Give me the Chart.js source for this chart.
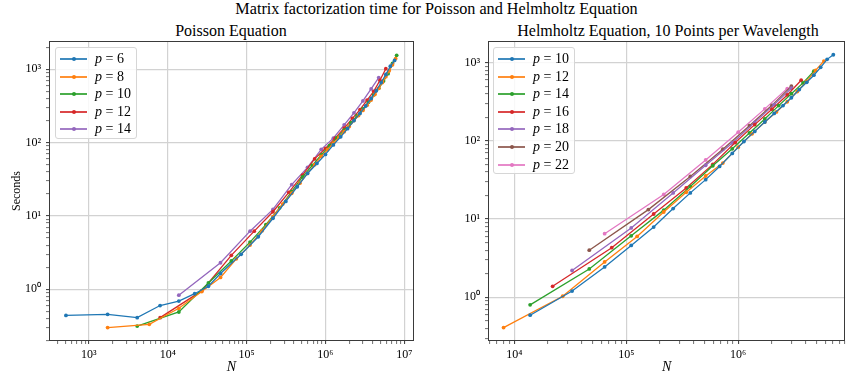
<!DOCTYPE html>
<html>
<head>
<meta charset="utf-8">
<script src="https://cdn.jsdelivr.net/npm/chart.js@4.4.1/dist/chart.umd.min.js"></script>
<style>
    body { margin: 0; background: #fff; }
    #page { position: relative; width: 849px; height: 377px; overflow: hidden; font-family: "Liberation Serif", "DejaVu Serif", serif; color: #000; }
    .title { position: absolute; text-align: center; white-space: nowrap; font-size: 16px; line-height: 18px; }
    .panel { position: absolute; top: 0; }
    .legend { position: absolute; background: rgba(255,255,255,0.85); border: 1px solid #d6d6d6; border-radius: 3px; box-sizing: border-box; }
    .entry { position: absolute; left: 0; height: 16px; width: 100%; }
    .entry .line { position: absolute; left: 4px; top: 7px; width: 27px; height: 2px; opacity: 0.85; }
    .entry .dot { position: absolute; left: 15.5px; top: 6px; width: 4px; height: 4px; border-radius: 50%; }
    .entry .txt { position: absolute; left: 39px; top: 0; font-size: 14px; line-height: 16px; white-space: nowrap; }
</style>
</head>
<body>
<div id="page">
    <div class="title" style="left:12px; width:849px; top:0; font-size:16.2px;">Matrix factorization time for Poisson and Helmholtz Equation</div>
    <div class="title" style="left:48px; width:366px; top:22px;">Poisson Equation</div>
    <div class="title" style="left:488px; width:360px; top:22px;">Helmholtz Equation, 10 Points per Wavelength</div>
    <div class="panel" style="left:0;"><canvas id="poissonChart" width="425" height="377"></canvas></div>
    <div class="panel" style="left:425px;"><canvas id="helmholtzChart" width="424" height="377"></canvas></div>
</div>
<script>
// Poisson equation: problem size N and factorization time (seconds)
const poissonN6 = [512, 1728, 4096, 8000, 13824, 21952, 32768, 46656, 85184, 140608, 216000, 314432, 438976, 592704, 778688, 1000000, 1259712, 1560896, 1906624, 2299968, 2744000, 3241792, 3796416, 4410944, 5088448, 5832000, 6644672, 7529536];
const poissonT6 = [0.44, 0.455, 0.41, 0.60, 0.69, 0.87, 1.1, 1.64, 3.0, 5.2, 9.3, 15.8, 25, 38, 52, 69, 93, 120, 155, 200, 250, 316, 400, 510, 660, 850, 1100, 1320];
const poissonN8 = [1728, 5832, 13824, 27000, 46656, 74088, 110592, 157464, 216000, 287496, 373248, 474552, 592704, 729000, 884736, 1061208, 1259712, 1481544, 1728000, 2000376, 2299968, 2628072, 2985984, 3375000, 3796416, 4251528, 4741632, 5268024, 5832000, 6434856, 7077888, 7762392];
const poissonT8 = [0.30, 0.333, 0.55, 0.93, 1.45, 2.6, 4.0, 6.3, 9.8, 14.5, 20.4, 28, 38, 50, 65, 80, 98, 118, 141, 166, 200, 234, 275, 324, 380, 457, 550, 660, 794, 955, 1150, 1400];
const poissonN10 = [4096, 13824, 32768, 64000, 110592, 175616, 262144, 373248, 512000, 681472, 884736, 1124864, 1404928, 1728000, 2097152, 2515456, 2985984, 3511808, 4096000, 4741632, 5451776, 6229504, 7077888, 8000000];
const poissonT10 = [0.315, 0.49, 1.22, 2.43, 4.4, 7.6, 12.9, 21.4, 34, 49, 68, 91, 117, 148, 186, 234, 288, 355, 447, 550, 692, 871, 1200, 1550];
const poissonN12 = [8000, 27000, 64000, 125000, 216000, 343000, 512000, 729000, 1000000, 1331000, 1728000, 2197000, 2744000, 3375000, 4096000, 4913000, 5832000];
const poissonT12 = [0.41, 0.95, 2.9, 6.2, 11.4, 21, 36, 60, 83, 115, 158, 214, 282, 380, 500, 708, 1020];
const poissonN14 = [13824, 46656, 110592, 216000, 373248, 592704, 884736, 1259712, 1728000, 2299968, 2985984, 3796416, 4741632];
const poissonT14 = [0.83, 2.3, 6.2, 12.3, 26.7, 46, 81, 115, 175, 255, 370, 540, 770];

// Helmholtz equation, 10 points per wavelength
const helmN10 = [13824, 32768, 64000, 110592, 175616, 262144, 373248, 512000, 681472, 884736, 1124864, 1404928, 1728000, 2097152, 2515456, 2985984, 3511808, 4096000, 4741632, 5451776, 6229504, 7077888];
const helmT10 = [0.59, 1.2, 2.44, 4.6, 7.9, 13.6, 21.6, 31.9, 47, 69, 98, 132, 174, 224, 282, 355, 452, 560, 690, 870, 1100, 1260];
const helmN12 = [8000, 27000, 64000, 125000, 216000, 343000, 512000, 729000, 1000000, 1331000, 1728000, 2197000, 2744000, 3375000, 4096000, 4913000, 5832000];
const helmT12 = [0.41, 1.03, 2.83, 6.0, 12.3, 22, 35.5, 52, 83, 123, 174, 234, 316, 427, 575, 794, 1047];
const helmN14 = [13824, 46656, 110592, 216000, 373248, 592704, 884736, 1259712, 1728000, 2299968, 2985984, 3796416, 4741632];
const helmT14 = [0.8, 2.3, 6.1, 13, 26, 48, 79, 126, 190, 282, 400, 550, 776];
const helmN16 = [21952, 74088, 175616, 343000, 592704, 941192, 1404928, 2000376, 2744000, 3652264];
const helmT16 = [1.38, 4.3, 11.6, 25, 50, 95, 161, 254, 386, 595];
const helmN18 = [32768, 110592, 262144, 512000, 884736, 1404928, 2097152, 2985984];
const helmT18 = [2.2, 7.7, 21.6, 48.7, 94, 172, 290, 470];
const helmN20 = [46656, 157464, 373248, 729000, 1259712, 2000376, 2985984];
const helmT20 = [4.0, 13.2, 35, 78, 156, 284, 500];
const helmN22 = [64000, 216000, 512000, 1000000, 1728000, 2744000];
const helmT22 = [6.5, 20.6, 57, 129, 256, 465];

const poissonP = [6, 8, 10, 12, 14];
const helmP = [10, 12, 14, 16, 18, 20, 22];
const colors = ['#1f77b4', '#ff7f0e', '#2ca02c', '#d62728', '#9467bd', '#8c564b', '#e377c2'];

const poissonSeries = [[poissonN6, poissonT6], [poissonN8, poissonT8], [poissonN10, poissonT10], [poissonN12, poissonT12], [poissonN14, poissonT14]];
const helmSeries = [[helmN10, helmT10], [helmN12, helmT12], [helmN14, helmT14], [helmN16, helmT16], [helmN18, helmT18], [helmN20, helmT20], [helmN22, helmT22]];

const SUP = {'-': '⁻', '0': '⁰', '1': '¹', '2': '²', '3': '³', '4': '⁴', '5': '⁵', '6': '⁶', '7': '⁷', '8': '⁸', '9': '⁹'};

function isDecade(v) {
    const l = Math.log10(v);
    return Math.abs(l - Math.round(l)) < 1e-9;
}

function decadeLabel(v) {
    if (!isDecade(v)) return '';
    const e = String(Math.round(Math.log10(v)));
    return '10' + e.split('').map(c => SUP[c]).join('');
}

function logTicks(scale) {
    const ticks = [];
    const lo = Math.floor(Math.log10(scale.min));
    const hi = Math.ceil(Math.log10(scale.max));
    for (let e = lo; e <= hi; e++) {
        for (let k = 1; k <= 9; k++) {
            const v = k * Math.pow(10, e);
            if (v >= scale.min && v <= scale.max) ticks.push({ value: v });
        }
    }
    scale.ticks = ticks;
}

// box around the plot area, like the axes spines
const framePlugin = {
    id: 'frame',
    afterDatasetsDraw(chart) {
        const a = chart.chartArea;
        const ctx = chart.ctx;
        ctx.save();
        ctx.strokeStyle = '#3a3a3a';
        ctx.lineWidth = 1;
        ctx.strokeRect(Math.round(a.left) + 0.5, Math.round(a.top) + 0.5, Math.round(a.right - a.left) - 1, Math.round(a.bottom - a.top) - 1);
        ctx.restore();
    }
};

function axis(min, max, fitSize, horizontal, title) {
    return {
        type: 'logarithmic',
        min: min,
        max: max,
        afterBuildTicks: logTicks,
        afterFit: horizontal ? (s => { s.height = fitSize; }) : (s => { s.width = fitSize; }),
        border: { display: false },
        grid: {
            color: c => (c.tick && isDecade(c.tick.value)) ? '#d2d2d2' : 'rgba(0,0,0,0)',
            lineWidth: 1.2,
            tickColor: '#333',
            tickWidth: c => (c.tick && isDecade(c.tick.value)) ? 1 : 0.7,
            tickLength: 3
        },
        ticks: {
            autoSkip: false,
            maxRotation: 0,
            padding: horizontal ? 4 : 5,
            color: '#000',
            font: { family: '"Liberation Serif", serif', size: 12 },
            callback: v => decadeLabel(v)
        },
        title: title
    };
}

function buildDatasets(series, ps) {
    return series.map((s, i) => ({
        label: 'p = ' + ps[i],
        data: s[0].map((n, j) => ({ x: n, y: s[1][j] })),
        borderColor: colors[i],
        backgroundColor: colors[i],
        borderWidth: 1.3,
        pointRadius: 1.9,
        pointHoverRadius: 1.9,
        pointBorderWidth: 0,
        tension: 0,
        fill: false
    }));
}

function makeChart(id, series, ps, xr, yr, yWidth, padRight, yTitle) {
    const ctx = document.getElementById(id).getContext('2d');
    return new Chart(ctx, {
        type: 'line',
        data: { datasets: buildDatasets(series, ps) },
        options: {
            responsive: false,
            animation: false,
            layout: { padding: { top: 41, right: padRight, left: 0, bottom: 0 } },
            plugins: { legend: { display: false }, tooltip: { enabled: false }, title: { display: false } },
            scales: {
                x: axis(xr[0], xr[1], 36, true, {
                    display: true, text: 'N', color: '#000',
                    font: { family: '"Liberation Serif", serif', size: 14, style: 'italic' },
                    padding: { top: 0, bottom: 1 }
                }),
                y: axis(yr[0], yr[1], yWidth, false, yTitle)
            }
        },
        plugins: [framePlugin]
    });
}

function makeLegend(left, ps) {
    const page = document.getElementById('page');
    const box = document.createElement('div');
    box.className = 'legend';
    box.style.left = left + 'px';
    box.style.top = '47px';
    box.style.width = '82px';
    box.style.height = Math.round(ps.length * 17.6 + 4) + 'px';
    ps.forEach((p, i) => {
        const e = document.createElement('div');
        e.className = 'entry';
        e.style.top = Math.round(3 + i * 17.6) + 'px';
        e.innerHTML = '<div class="line" style="background:' + colors[i] + '"></div>' +
            '<div class="dot" style="background:' + colors[i] + '"></div>' +
            '<div class="txt"><i>p</i> = ' + p + '</div>';
        box.appendChild(e);
    });
    page.appendChild(box);
}

document.addEventListener('DOMContentLoaded', function() {
    makeChart('poissonChart', poissonSeries, poissonP, [312, 1.327e7], [0.197, 2432], 49, 11, {
        display: true, text: 'Seconds', color: '#000',
        font: { family: '"Liberation Serif", serif', size: 12 },
        padding: { top: 10, bottom: 0 }
    });
    makeChart('helmholtzChart', helmSeries, helmP, [5808, 9.02e6], [0.276, 1888], 63, 1, { display: false });
    makeLegend(55, poissonP);
    makeLegend(493, helmP);
});
</script>
</body>
</html>
